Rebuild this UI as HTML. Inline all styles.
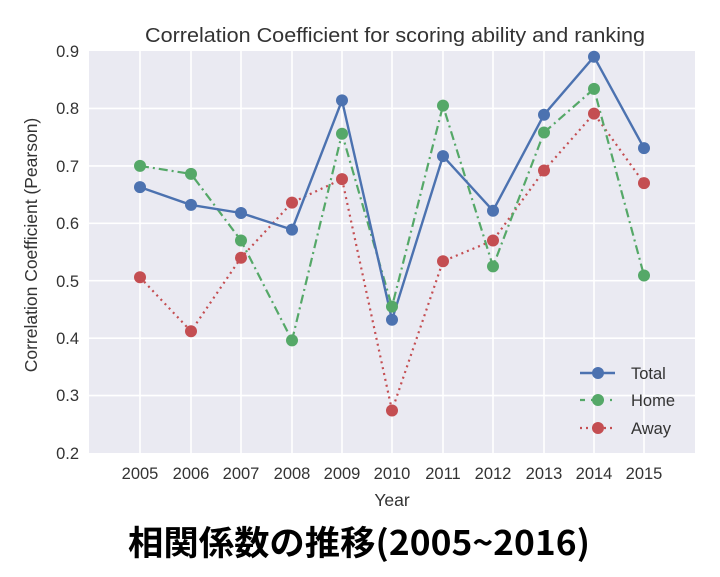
<!DOCTYPE html>
<html><head><meta charset="utf-8"><style>
html,body{margin:0;padding:0;background:#fff;}
svg{display:block;font-family:"Liberation Sans",Arial,sans-serif;}
</style></head><body>
<svg width="720" height="577" xmlns="http://www.w3.org/2000/svg">
<rect x="0" y="0" width="720" height="577" fill="#fff"/>
<rect x="89" y="51" width="606" height="402" fill="#EAEAF2"/>
<g stroke="#fff" stroke-width="1.6">
<line x1="89" x2="695" y1="108.4" y2="108.4"/><line x1="89" x2="695" y1="165.9" y2="165.9"/>
<line x1="89" x2="695" y1="223.3" y2="223.3"/><line x1="89" x2="695" y1="280.7" y2="280.7"/>
<line x1="89" x2="695" y1="338.2" y2="338.2"/><line x1="89" x2="695" y1="395.6" y2="395.6"/>
<line x1="140" x2="140" y1="51" y2="453"/><line x1="191" x2="191" y1="51" y2="453"/>
<line x1="241" x2="241" y1="51" y2="453"/><line x1="292" x2="292" y1="51" y2="453"/>
<line x1="342" x2="342" y1="51" y2="453"/><line x1="392" x2="392" y1="51" y2="453"/>
<line x1="443" x2="443" y1="51" y2="453"/><line x1="493" x2="493" y1="51" y2="453"/>
<line x1="544" x2="544" y1="51" y2="453"/><line x1="594" x2="594" y1="51" y2="453"/>
<line x1="644" x2="644" y1="51" y2="453"/>
</g>
<polyline fill="none" stroke="#C44E52" stroke-width="2.2" stroke-dasharray="2,4" points="140,277.3 191,331.3 241,257.7 292,202.6 342,179.1 392,410.5 443,261.2 493,240.5 544,170.5 594,113.6 644,183.1"/>
<polyline fill="none" stroke="#55A868" stroke-width="2.2" stroke-dasharray="9,4,2,4" points="140,165.9 191,173.9 241,240.5 292,340.4 342,133.7 392,306.6 443,105.6 493,266.4 544,132.5 594,88.9 644,275.5"/>
<polyline fill="none" stroke="#4C72B0" stroke-width="2.4" points="140,187.1 191,204.9 241,213 292,229.6 342,100.4 392,319.8 443,156.1 493,210.7 544,114.7 594,56.7 644,148.1"/>
<g fill="#4C72B0">
<circle cx="140" cy="187.1" r="6"/><circle cx="191" cy="204.9" r="6"/><circle cx="241" cy="213" r="6"/><circle cx="292" cy="229.6" r="6"/><circle cx="342" cy="100.4" r="6"/><circle cx="392" cy="319.8" r="6"/><circle cx="443" cy="156.1" r="6"/><circle cx="493" cy="210.7" r="6"/><circle cx="544" cy="114.7" r="6"/><circle cx="594" cy="56.7" r="6"/><circle cx="644" cy="148.1" r="6"/>
</g>
<g fill="#55A868">
<circle cx="140" cy="165.9" r="6"/><circle cx="191" cy="173.9" r="6"/><circle cx="241" cy="240.5" r="6"/><circle cx="292" cy="340.4" r="6"/><circle cx="342" cy="133.7" r="6"/><circle cx="392" cy="306.6" r="6"/><circle cx="443" cy="105.6" r="6"/><circle cx="493" cy="266.4" r="6"/><circle cx="544" cy="132.5" r="6"/><circle cx="594" cy="88.9" r="6"/><circle cx="644" cy="275.5" r="6"/>
</g>
<g fill="#C44E52">
<circle cx="140" cy="277.3" r="6"/><circle cx="191" cy="331.3" r="6"/><circle cx="241" cy="257.7" r="6"/><circle cx="292" cy="202.6" r="6"/><circle cx="342" cy="179.1" r="6"/><circle cx="392" cy="410.5" r="6"/><circle cx="443" cy="261.2" r="6"/><circle cx="493" cy="240.5" r="6"/><circle cx="544" cy="170.5" r="6"/><circle cx="594" cy="113.6" r="6"/><circle cx="644" cy="183.1" r="6"/>
</g>
<line x1="580" x2="615" y1="373" y2="373" stroke="#4C72B0" stroke-width="2.4"/><circle cx="598" cy="373" r="6" fill="#4C72B0"/>
<line x1="580" x2="615" y1="400" y2="400" stroke="#55A868" stroke-width="2.2" stroke-dasharray="5,6,2,6"/><circle cx="598" cy="400" r="6" fill="#55A868"/>
<line x1="580" x2="615" y1="428" y2="428" stroke="#C44E52" stroke-width="2.2" stroke-dasharray="2,4"/><circle cx="598" cy="428" r="6" fill="#C44E52"/>
<g font-size="16.5" fill="#333">
<text x="631" y="379">Total</text><text x="631" y="406">Home</text><text x="631" y="434">Away</text>
</g>
<g font-size="16.5" fill="#333" text-anchor="end">
<text x="79" y="57">0.9</text><text x="79" y="114">0.8</text><text x="79" y="172">0.7</text><text x="79" y="229">0.6</text><text x="79" y="287">0.5</text><text x="79" y="344">0.4</text><text x="79" y="401">0.3</text><text x="79" y="459">0.2</text>
</g>
<g font-size="16.5" fill="#333" text-anchor="middle">
<text x="140" y="479">2005</text><text x="191" y="479">2006</text><text x="241" y="479">2007</text><text x="292" y="479">2008</text><text x="342" y="479">2009</text><text x="392" y="479">2010</text><text x="443" y="479">2011</text><text x="493" y="479">2012</text><text x="544" y="479">2013</text><text x="594" y="479">2014</text><text x="644" y="479">2015</text>
<text x="392" y="506" font-size="17.5">Year</text>
<text transform="translate(37,245) rotate(-90)" font-size="17.5">Correlation Coefficient (Pearson)</text>
</g>
<text x="145" y="42" font-size="20" fill="#333" textLength="500" lengthAdjust="spacingAndGlyphs">Correlation Coefficient for scoring ability and ranking</text>
<text x="128" y="555" textLength="462" lengthAdjust="spacingAndGlyphs" font-size="34" font-weight="bold" fill="#000" font-family="'Noto Sans CJK JP',sans-serif">相関係数の推移(2005~2016)</text>
</svg>
</body></html>
